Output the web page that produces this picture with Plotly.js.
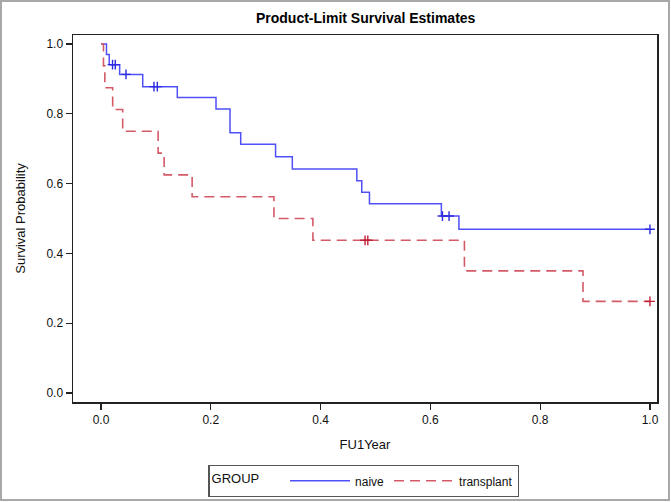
<!DOCTYPE html>
<html>
<head>
<meta charset="utf-8">
<script src="https://cdn.plot.ly/plotly-3.0.1.min.js"></script>
<style>
  html, body { margin: 0; padding: 0; background: #fff; }
  #wrap { position: relative; width: 671px; height: 502px; }
  #chart { position: absolute; left: 0; top: 0; width: 671px; height: 502px; }
  #frame { position: absolute; left: 0; top: 0; width: 670px; height: 501px; box-sizing: border-box;
           border: 2px solid #a8a8a8; pointer-events: none; }
</style>
</head>
<body>
<div id="wrap"><div id="chart"></div><div id="frame"></div></div>
<script>
// Kaplan-Meier step data
const naiveTime = [0, 0.010, 0.015, 0.034, 0.076, 0.139, 0.2095, 0.235, 0.2545, 0.318, 0.3485, 0.466, 0.475, 0.489, 0.620, 0.652, 1.0];
const naiveSurv = [1.0, 0.970, 0.941, 0.913, 0.878, 0.847, 0.814, 0.746, 0.713, 0.677, 0.642, 0.608, 0.575, 0.542, 0.507, 0.469, 0.469];
const naiveCensor = [0.021, 0.026, 0.0455, 0.0965, 0.1026, 0.622, 0.634, 1.0];

const transTime = [0, 0.0045, 0.007, 0.0213, 0.0395, 0.104, 0.115, 0.166, 0.315, 0.386, 0.662, 0.878, 1.0];
const transSurv = [1.0, 0.9375, 0.875, 0.8125, 0.75, 0.6875, 0.625, 0.5625, 0.5, 0.4375, 0.35, 0.2625, 0.2625];
const transCensor = [0.481, 0.486, 1.0];

const groupNames = ['naive', 'transplant'];
const xTickVals = [0, 0.2, 0.4, 0.6, 0.8, 1.0];
const yTickVals = [0, 0.2, 0.4, 0.6, 0.8, 1.0];

function survAt(times, surv, t) {
  let s = surv[0];
  for (let i = 0; i < times.length; i++) { if (times[i] <= t) s = surv[i]; }
  return s;
}

const FONT = 'Liberation Sans Narrow, Arial Narrow, Liberation Sans, Arial, sans-serif';
const blue = '#5050f8';
const red = '#d45a68';

const traces = [
  { x: naiveTime, y: naiveSurv, type: 'scatter', mode: 'lines', name: groupNames[0],
    line: { shape: 'hv', color: blue, width: 1.5 }, hoverinfo: 'skip' },
  { x: transTime, y: transSurv, type: 'scatter', mode: 'lines', name: groupNames[1],
    line: { shape: 'hv', color: red, width: 1.6, dash: '10px,6px' }, hoverinfo: 'skip' },
  { x: naiveCensor, y: naiveCensor.map(t => survAt(naiveTime, naiveSurv, t)), type: 'scatter', mode: 'markers',
    showlegend: false, marker: { symbol: 'cross-thin', size: 7, line: { color: '#2a2ae0', width: 1.4 } } },
  { x: transCensor, y: transCensor.map(t => survAt(transTime, transSurv, t)), type: 'scatter', mode: 'markers',
    showlegend: false, marker: { symbol: 'cross-thin', size: 7, line: { color: '#c01e38', width: 1.4 } } }
];

const axisCommon = {
  showgrid: false, zeroline: false, showline: true, mirror: true, automargin: false,
  linecolor: '#222', linewidth: 1.5,
  ticks: 'outside', ticklen: 6, tickwidth: 1.2, tickcolor: '#222',
  tickfont: { family: FONT, size: 12, color: '#111' },
  tickformat: '.1f'
};

const layout = {
  width: 671, height: 502,
  margin: { l: 73, r: 14, t: 35, b: 100, autoexpand: false },
  paper_bgcolor: '#fff', plot_bgcolor: '#fff',
  title: { text: 'Product-Limit Survival Estimates', x: 0.545, xanchor: 'center', y: 0.964, yanchor: 'middle',
           font: { family: FONT, size: 14, color: '#000', weight: 'bold' } },
  xaxis: Object.assign({}, axisCommon, {
    range: [-0.051, 1.0128], tickvals: xTickVals,
    title: { text: 'FU1Year', font: { family: FONT, size: 13, color: '#111' }, standoff: 14 }
  }),
  yaxis: Object.assign({}, axisCommon, {
    range: [-0.026, 1.026], tickvals: yTickVals,
    title: { text: 'Survival Probability', font: { family: FONT, size: 13, color: '#111' }, standoff: 18 }
  }),
  showlegend: true,
  legend: {
    orientation: 'h', x: 0.498, xanchor: 'center', y: -0.172, yanchor: 'top',
    bordercolor: '#555', borderwidth: 1.2, bgcolor: '#fff',
    font: { family: FONT, size: 12, color: '#111' },
    title: { text: 'GROUP     ', side: 'left', font: { family: FONT, size: 13, color: '#111' } },
    itemwidth: 60, tracegroupgap: 0
  }
};

Plotly.newPlot('chart', traces, layout, { staticPlot: true, displayModeBar: false });
</script>
</body>
</html>
